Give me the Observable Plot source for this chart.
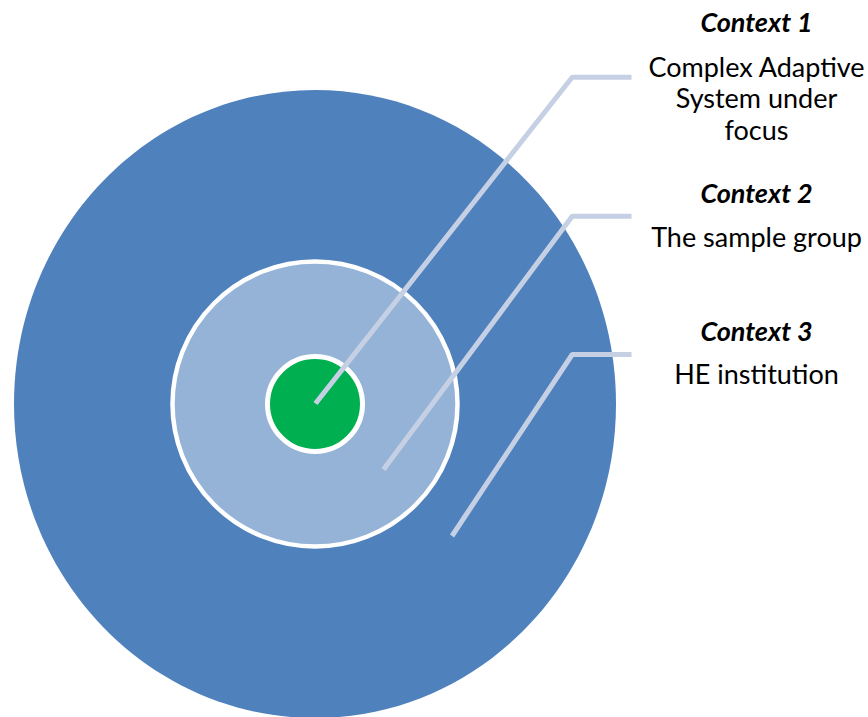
<!DOCTYPE html>
<html>
<head>
<meta charset="utf-8">
<script src="https://cdn.jsdelivr.net/npm/d3@7"></script>
<script src="https://cdn.jsdelivr.net/npm/@observablehq/plot@0.6"></script>
<style>
  html, body { margin: 0; padding: 0; background: #ffffff; }
  #chart svg { display: block; }
</style>
</head>
<body>
<div id="chart"></div>
<script>
// ---- Data ----
const contexts = ["Context 1", "Context 2", "Context 3"];
const descriptions = [
  ["Complex Adaptive", "System under", "focus"],
  ["The sample group"],
  ["HE institution"]
];
// rings from inner (Context 1) to outer (Context 3)
const ringNames = ["Complex Adaptive System under focus", "The sample group", "HE institution"];
const ringRadii = [47.5, 142.5, 314];
const ringColors = ["#00b050", "#95b3d7", "#4f81bd"];

// ---- Layout (diagram coordinates, 1 unit = 1 px) ----
const W = 868, H = 717;
const center = {x: 314.5, y: 403.5};
const outerAspect = 301 / 314;              // outer ring is slightly taller than wide
const leaderStart = [[315, 403], [383, 469], [451.5, 535.5]];
const leaderElbowX = 571.7, leaderEndX = 631;
const leaderElbowY = [76.7, 215.7, 354];
const labelX = 756;
const titleBaseline = [31, 202, 340];
const descFirstBaseline = [76, 246, 383];
const lineStep = 31.5;
const fontSize = 27;

// custom ellipse symbol for Plot.dot
const ellipseSymbol = (k) => ({
  draw(ctx, size) {
    const ry = Math.sqrt(size / Math.PI), rx = ry * k, c = 0.5522847498;
    ctx.moveTo(rx, 0);
    ctx.bezierCurveTo(rx, ry * c, rx * c, ry, 0, ry);
    ctx.bezierCurveTo(-rx * c, ry, -rx, ry * c, -rx, 0);
    ctx.bezierCurveTo(-rx, -ry * c, -rx * c, -ry, 0, -ry);
    ctx.bezierCurveTo(rx * c, -ry, rx, -ry * c, rx, 0);
    ctx.closePath();
  }
});

const rings = ringNames.map((name, i) => ({name, r: ringRadii[i], color: ringColors[i]}));

const leaders = contexts.flatMap((c, i) => [
  {context: c, x: leaderStart[i][0], y: leaderStart[i][1]},
  {context: c, x: leaderElbowX, y: leaderElbowY[i]},
  {context: c, x: leaderEndX, y: leaderElbowY[i]}
]);

const titles = contexts.map((c, i) => ({text: c, y: titleBaseline[i]}));
const descLines = descriptions.flatMap((lines, i) =>
  lines.map((t, j) => ({text: t, y: descFirstBaseline[i] + j * lineStep})));

const common = {fontFamily: "Lato, 'Open Sans', sans-serif", fontSize, lineAnchor: "bottom", textAnchor: "middle", fill: "#000"};

const chart = Plot.plot({
  width: W,
  height: H,
  margin: 0,
  x: {domain: [0, W], range: [0, W], axis: null},
  y: {domain: [0, H], range: [0, H], axis: null},
  style: {background: "#ffffff", overflow: "hidden"},
  marks: [
    // outer ring (Context 3)
    Plot.dot([rings[2]], {x: () => center.x, y: () => center.y, r: rings[2].r,
      symbol: ellipseSymbol(outerAspect), fill: rings[2].color, stroke: "none"}),
    // middle ring (Context 2)
    Plot.dot([rings[1]], {x: () => center.x, y: () => center.y, r: rings[1].r,
      fill: rings[1].color, stroke: "#ffffff", strokeWidth: 4.5}),
    // inner ring (Context 1)
    Plot.dot([rings[0]], {x: () => center.x, y: () => center.y, r: rings[0].r,
      fill: rings[0].color, stroke: "#ffffff", strokeWidth: 5}),
    // leader lines
    Plot.line(leaders, {x: "x", y: "y", z: "context", stroke: "#c6d0e4", strokeWidth: 5,
      strokeLinecap: "butt", strokeLinejoin: "miter", curve: "linear"}),
    // labels
    Plot.text(titles, {x: () => labelX, y: "y", text: "text", ...common, fontWeight: "bold", fontStyle: "italic"}),
    Plot.text(descLines, {x: () => labelX, y: "y", text: "text", ...common})
  ]
});

document.getElementById("chart").appendChild(chart);
</script>
</body>
</html>
